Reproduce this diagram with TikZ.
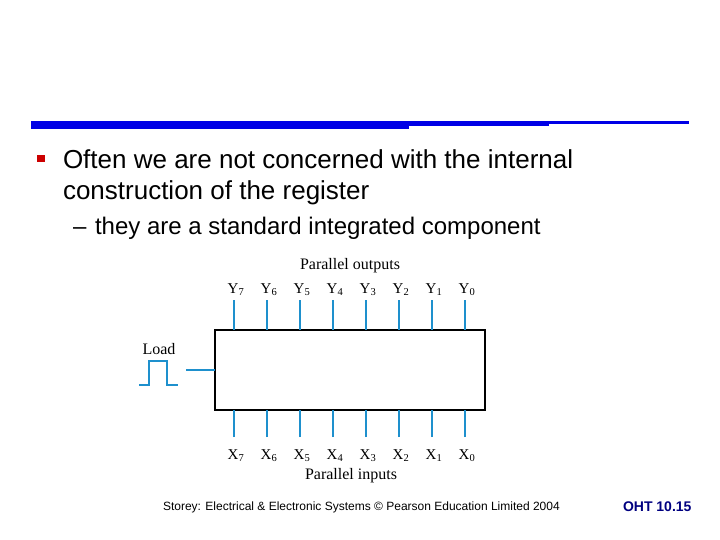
\documentclass[tikz,border=0pt]{standalone}
\usepackage{fontspec}
\setmainfont{Liberation Serif}
\setsansfont{Liberation Sans}
\usepackage{tikz}
\usetikzlibrary{positioning}
\definecolor{barblue}{RGB}{0,0,230}
\definecolor{pinblue}{RGB}{30,144,205}
\definecolor{bulletred}{RGB}{204,0,0}
\definecolor{ohtnavy}{RGB}{0,0,128}
\tikzstyle{slide}=[every node/.style={inner sep=0, outer sep=0}]
\tikzstyle{regbox}=[draw=black, line width=2pt, fill=white, minimum width=270pt,
                minimum height=80pt]
\tikzstyle{pin}=[draw=pinblue, line width=2.6pt]
\tikzstyle{plabel}=[anchor=base, font=\fontsize{16}{18}\selectfont, text=black]
\tikzstyle{xylabel}=[anchor=base, font=\fontsize{15}{17}\selectfont, text=black]
\tikzstyle{btext}=[anchor=base west, font=\sffamily\fontsize{26}{30}\selectfont]
\tikzstyle{stext}=[anchor=base west, font=\sffamily\fontsize{24}{28}\selectfont]

\begin{document}
\begin{tikzpicture}[slide, x=1pt, y=-1pt]
\path[use as bounding box] (0,0) rectangle (720,540);
% title rule
\fill[barblue] (31,121) rectangle (409,129);
\fill[barblue] (409,121) rectangle (549,126);
\fill[barblue] (549,121) rectangle (689,124);
% bullet text
\fill[bulletred] (37,155) rectangle (45,162);
\node[btext] (l1) at (63,169) {Often we are not concerned with the internal};
\node[btext] (l2) at (63,200) {construction of the register};
\node[stext] (l3) at (73,235) {--};
\node[stext] (l4) at (95,235) {they are a standard integrated component};
% register
\node[regbox] (reg) at (350,369.5) {};
\node[plabel] (pout) at (350,269) {Parallel outputs};
\node[plabel] (pin) at (351,479) {Parallel inputs};
\foreach \i in {0,...,7}{
  \coordinate (yt\i) at (465-33*\i,300);
  \coordinate (xb\i) at (465-33*\i,437);
  \draw[pin] (yt\i) -- (yt\i |- reg.north);
  \draw[pin] (xb\i) -- (xb\i |- reg.south);
  \node[xylabel] (y\i) at (467-33*\i,293) {Y\textsubscript{\i}};
  \node[xylabel] (x\i) at (467-33*\i,459) {X\textsubscript{\i}};
}
% load pulse
\node[plabel] (load) at (159,354) {Load};
\coordinate (ld) at (186,370);
\draw[pin] (ld) -- (ld -| reg.west);
\draw[pin] (139,385) -- (149,385) -- (149,361) -- (167,361) -- (167,385) -- (178,385);
% footer
\node[anchor=base west, font=\sffamily\fontsize{12}{14}\selectfont] (foot) at (163,510)
  {Storey: Electrical \& Electronic Systems © Pearson Education Limited 2004};
\node[anchor=base west, text=ohtnavy, font=\sffamily\bfseries\fontsize{14}{16}\selectfont]
  (oht) at (623,511) {OHT 10.15};
\end{tikzpicture}
\end{document}
